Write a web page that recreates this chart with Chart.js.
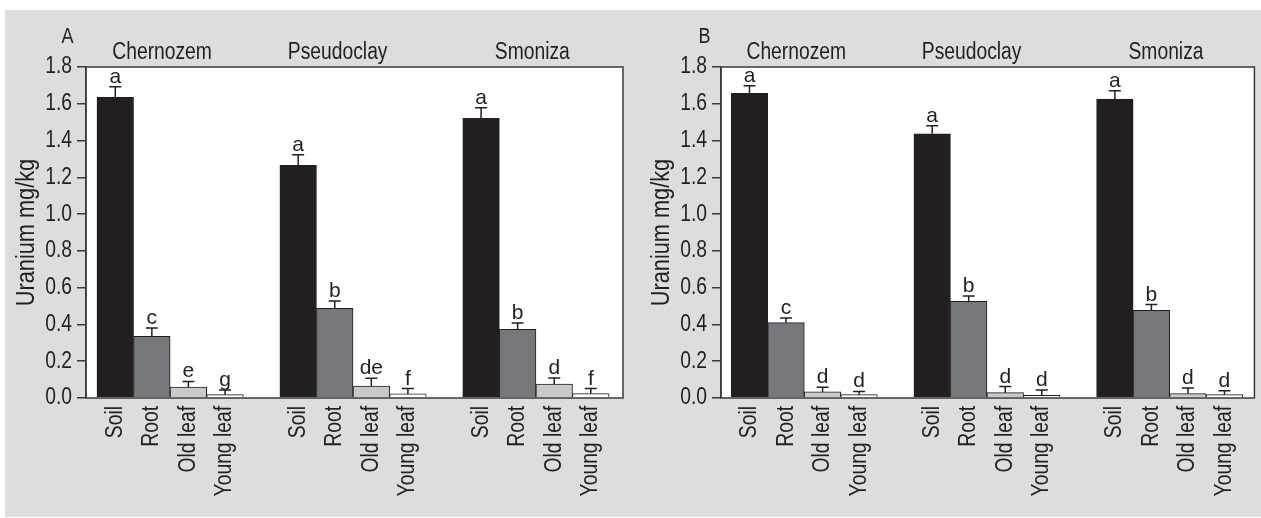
<!DOCTYPE html>
<html><head><meta charset="utf-8">
<script src="https://cdn.jsdelivr.net/npm/chart.js@4"></script>
<style>
html,body{margin:0;padding:0;background:#fff;width:1261px;height:518px;overflow:hidden}
#bg{position:absolute;left:5px;top:10px;width:1256px;height:507px;background:#dcdddf}
.wrap{position:absolute;top:0;height:518px}
#wa{left:0;width:630px}
#wb{left:635px;width:626px}
canvas{display:block}
</style></head><body>
<div id="bg"></div>
<div class="wrap" id="wa"><canvas id="ca" width="630" height="518"></canvas></div>
<div class="wrap" id="wb"><canvas id="cb" width="626" height="518"></canvas></div>
<script>
// ---- data ----
const categories = ['Chernozem', 'Pseudoclay', 'Smoniza'];
const organs = ['Soil', 'Root', 'Old leaf', 'Young leaf'];
const yTickValues = [0, 0.2, 0.4, 0.6, 0.8, 1.0, 1.2, 1.4, 1.6, 1.8];
const yTitle = 'Uranium mg/kg';

const meanA = [1.635, 0.336, 0.060, 0.018, 1.265, 0.488, 0.065, 0.022, 1.521, 0.374, 0.076, 0.024];
const errA = [0.058, 0.045, 0.030, 0.025, 0.058, 0.040, 0.042, 0.029, 0.058, 0.034, 0.033, 0.027];
const lettersA = ['a', 'c', 'e', 'g', 'a', 'b', 'de', 'f', 'a', 'b', 'd', 'f'];

const meanB = [1.657, 0.410, 0.033, 0.018, 1.437, 0.526, 0.029, 0.015, 1.626, 0.477, 0.024, 0.018];
const errB = [0.041, 0.025, 0.025, 0.018, 0.044, 0.029, 0.033, 0.029, 0.045, 0.031, 0.030, 0.022];
const lettersB = ['a', 'c', 'd', 'd', 'a', 'b', 'd', 'd', 'a', 'b', 'd', 'd'];

// ---- styles ----
const organColors = ['#231f20', '#76777a', '#c8c9cb', '#ffffff'];
const INK = '#231f20';
const FRAME = '#3a3a3a';
const FAMILY = "'Liberation Sans', Arial, sans-serif";
const FS = 23.5;          // tick / label font size
const TITLE_FS = 26.5;    // y title size
const LETTER_FS = 21;     // significance letters
const NARROW = 0.82;      // horizontal condensation (narrow typeface look)
const groupLabelX = [1.28, 6.08, 11.4];

Chart.defaults.color = INK;
Chart.defaults.font.family = FAMILY;
Chart.defaults.font.size = FS;

const slotsPerGroup = organs.length + 1;
function slotOf(i) { return Math.floor(i / organs.length) * slotsPerGroup + (i % organs.length); }

function narrowText(ctx, text, x, y, size, align, squeeze) {
  ctx.save();
  ctx.font = size + 'px ' + FAMILY;
  ctx.textAlign = align;
  ctx.textBaseline = 'alphabetic';
  ctx.translate(x, y);
  ctx.scale(squeeze, 1);
  ctx.fillText(text, 0, 0);
  ctx.restore();
}

// condense the library-drawn axis texts around their anchor lines
const narrowAxes = {
  id: 'narrowAxes',
  beforeDraw(chart) {
    const ys = chart.scales.y, xs = chart.scales.x;
    if (!ys.__narrow) {
      const dl = ys.drawLabels.bind(ys);
      ys.drawLabels = function (ca) {
        const ctx = this.ctx;
        const x0 = this.right - this.options.grid.tickLength - this.options.ticks.padding;
        ctx.save(); ctx.translate(x0, 0); ctx.scale(NARROW, 1); ctx.translate(-x0, 0);
        dl(ca); ctx.restore();
      };
      const dt = ys.drawTitle.bind(ys);
      ys.drawTitle = function () {
        const ctx = this.ctx;
        const yc = (this.top + this.bottom) / 2;
        ctx.save(); ctx.translate(0, yc); ctx.scale(1, NARROW); ctx.translate(0, -yc);
        dt(); ctx.restore();
      };
      ys.__narrow = true;
    }
    if (!xs.__narrow) {
      const dl = xs.drawLabels.bind(xs);
      xs.drawLabels = function (ca) {
        const ctx = this.ctx;
        const y0 = this.top + this.options.ticks.padding;
        ctx.save(); ctx.translate(0, y0); ctx.scale(1, NARROW); ctx.translate(0, -y0);
        dl(ca); ctx.restore();
      };
      xs.__narrow = true;
    }
  }
};

function makeDecor(means, errs, letters, panel, panelDx) {
  return {
    id: 'decor',
    beforeDraw(chart) {
      const ctx = chart.ctx, ca = chart.chartArea;
      ctx.save();
      ctx.fillStyle = '#ffffff';
      ctx.fillRect(ca.left, ca.top, ca.right - ca.left, ca.bottom - ca.top);
      ctx.restore();
    },
    afterDatasetsDraw(chart) {
      const ctx = chart.ctx, ca = chart.chartArea, xs = chart.scales.x, ys = chart.scales.y;
      const meta = chart.getDatasetMeta(0);
      ctx.save();
      ctx.strokeStyle = INK; ctx.fillStyle = INK; ctx.lineWidth = 1.5;
      meta.data.forEach((bar, i) => {
        const top = ys.getPixelForValue(means[i] + errs[i]);
        ctx.beginPath();
        ctx.moveTo(bar.x, bar.y); ctx.lineTo(bar.x, top);
        ctx.moveTo(bar.x - 6, top); ctx.lineTo(bar.x + 6, top);
        ctx.stroke();
        narrowText(ctx, letters[i], bar.x, top - 4, LETTER_FS, 'center', 1);
      });
      // frame
      ctx.strokeStyle = FRAME; ctx.lineWidth = 1.5;
      ctx.strokeRect(ca.left, ca.top, ca.right - ca.left, ca.bottom - ca.top);
      // group labels and panel letter
      ctx.fillStyle = INK;
      categories.forEach((c, k) => narrowText(ctx, c, xs.getPixelForValue(groupLabelX[k]), 59, FS, 'center', NARROW));
      narrowText(ctx, panel, ca.left + panelDx, 43, 22, 'center', NARROW);
      ctx.restore();
    }
  };
}

function makeChart(id, means, errs, letters, panel, xMin, xMax, padRight, panelDx) {
  const data = means.map((v, i) => ({ x: slotOf(i), y: v }));
  const colors = means.map((v, i) => organColors[i % organs.length]);
  const tickPos = means.map((v, i) => slotOf(i));
  return new Chart(document.getElementById(id), {
    type: 'bar',
    data: {
      datasets: [{
        data: data,
        backgroundColor: colors,
        borderColor: INK,
        borderWidth: 1,
        borderSkipped: 'bottom',
        barPercentage: 1,
        categoryPercentage: 1
      }]
    },
    options: {
      responsive: false,
      animation: false,
      devicePixelRatio: 1,
      layout: { padding: { left: 0, right: padRight, top: 67, bottom: 0 } },
      plugins: { legend: { display: false }, tooltip: { enabled: false } },
      scales: {
        x: {
          type: 'linear',
          min: xMin, max: xMax,
          offset: false,
          grid: { display: false, drawTicks: false, offset: false },
          border: { display: false },
          afterBuildTicks: s => { s.ticks = tickPos.map(v => ({ value: v })); },
          afterFit: s => { s.height = 120; },
          ticks: {
            autoSkip: false, maxRotation: 90, minRotation: 90, padding: 8,
            color: INK, font: { size: FS, family: FAMILY },
            callback: (v) => organs[((v % slotsPerGroup) + slotsPerGroup) % slotsPerGroup] || ''
          }
        },
        y: {
          min: 0, max: 1.8,
          afterBuildTicks: s => { s.ticks = yTickValues.map(v => ({ value: v })); },
          afterFit: s => { s.width = 86; },
          grid: { drawOnChartArea: false, drawTicks: true, tickLength: 9, color: FRAME, lineWidth: 1.5 },
          border: { display: true, color: FRAME, width: 1.5 },
          ticks: {
            padding: 5, color: INK, font: { size: FS, family: FAMILY },
            callback: v => Number(v).toFixed(1)
          },
          title: { display: true, text: yTitle, color: INK, font: { size: TITLE_FS, family: FAMILY }, padding: { top: 11, bottom: 0 } }
        }
      }
    },
    plugins: [narrowAxes, makeDecor(means, errs, letters, panel, panelDx)]
  });
}

makeChart('ca', meanA, errA, lettersA, 'A', -0.8, 13.88, 7, -18.5);
makeChart('cb', meanB, errB, lettersB, 'B', -0.78, 13.82, 6, -16.5);
</script>
</body></html>
